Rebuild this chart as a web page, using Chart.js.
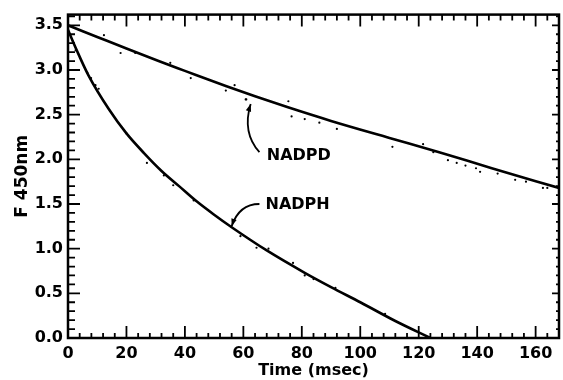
<!DOCTYPE html>
<html>
<head>
<meta charset="utf-8">
<script src="https://cdn.jsdelivr.net/npm/chart.js@4.4.0/dist/chart.umd.min.js"></script>
<style>
  html, body { margin: 0; padding: 0; background: #fff; }
  #wrap { width: 563px; height: 380px; }
</style>
</head>
<body>
<div id="wrap"><canvas id="line-chart"></canvas></div>
<script>
// fitted curves (time in msec, F 450nm)
var nadpdTime = [0, 10, 20, 31, 40, 54, 64, 75, 90, 110, 127, 145, 168]
var nadpdValue = [3.50, 3.37, 3.24, 3.10, 2.99, 2.82, 2.705, 2.585, 2.43, 2.24, 2.08, 1.90, 1.68]

var nadphTime = [0, 3, 7, 14, 20, 26, 32, 38, 44, 50, 56, 68, 81, 90, 100, 112, 124]
var nadphValue = [3.45, 3.22, 2.94, 2.56, 2.29, 2.07, 1.87, 1.70, 1.53, 1.38, 1.24, 0.98, 0.73, 0.57, 0.40, 0.19, 0]

// scattered raw points that stand off the line
var nadpdDotsTime = [12.3, 18, 23, 35, 42, 54, 57, 61, 60.8, 75.4, 76.5, 81, 86, 92, 111, 121.5, 125, 130, 133, 136, 139.6, 141, 147, 153, 156.7, 162.5, 164]
var nadpdDotsValue = [3.39, 3.19, 3.19, 3.08, 2.91, 2.77, 2.83, 2.67, 2.67, 2.65, 2.48, 2.45, 2.41, 2.34, 2.14, 2.17, 2.08, 1.99, 1.96, 1.93, 1.90, 1.86, 1.84, 1.77, 1.75, 1.68, 1.68]

var nadphDotsTime = [2.6, 6.6, 7.9, 9.4, 10.5, 20, 27, 32.8, 36, 43, 59, 64.5, 68.6, 77, 81, 84, 91.5, 101, 108.5]
var nadphDotsValue = [3.22, 2.97, 2.91, 2.83, 2.79, 2.29, 1.96, 1.82, 1.71, 1.54, 1.14, 1.01, 1.00, 0.84, 0.70, 0.66, 0.56, 0.38, 0.27]

// axis tick labels
var xTickLabels = [0, 20, 40, 60, 80, 100, 120, 140, 160]
var yTickLabels = ['0.0', '0.5', '1.0', '1.5', '2.0', '2.5', '3.0', '3.5']

function toPoints(xs, ys) {
    return xs.map(function (x, i) { return { x: x, y: ys[i] } })
}

// line options shared by both fitted curves
var lineOpts = {
    borderColor: '#000',
    borderWidth: 2.6,
    cubicInterpolationMode: 'monotone',
    pointRadius: 0,
    fill: false
}
var dotOpts = {
    showLine: false,
    pointRadius: 1.1,
    pointBackgroundColor: '#000',
    pointBorderWidth: 0
}

// frame, inward ticks, labels and arrows
var framePlugin = {
    id: 'frame',
    afterDatasetsDraw: function (chart) {
        var ctx = chart.ctx
        var a = chart.chartArea
        var xs = chart.scales.x
        var ys = chart.scales.y
        ctx.save()
        ctx.strokeStyle = '#000'
        ctx.lineWidth = 2.5
        ctx.strokeRect(a.left, a.top, a.right - a.left, a.bottom - a.top)

        ctx.lineWidth = 1.8
        ctx.beginPath()
        for (var t = 0; t <= 168; t += 4) {
            var px = xs.getPixelForValue(t)
            var major = t % 20 === 0
            ctx.moveTo(px, a.bottom)
            ctx.lineTo(px, a.bottom - (major ? 12 : 5))
            ctx.moveTo(px, a.top)
            ctx.lineTo(px, a.top + (major ? 12 : 6))
        }
        for (var k = 0; k <= 36; k++) {
            var py = ys.getPixelForValue(k / 10)
            var maj = k % 5 === 0
            ctx.moveTo(a.left, py)
            ctx.lineTo(a.left + (maj ? 12 : 7), py)
            ctx.moveTo(a.right, py)
            ctx.lineTo(a.right - (maj ? 7 : 3), py)
        }
        ctx.stroke()

        // labels
        ctx.fillStyle = '#000'
        ctx.font = 'bold 16px "DejaVu Sans"'
        ctx.textBaseline = 'middle'
        ctx.fillText('NADPD', xs.getPixelForValue(68), ys.getPixelForValue(2.04))
        ctx.fillText('NADPH', xs.getPixelForValue(67.6), ys.getPixelForValue(1.49))

        // arrows
        drawArrow(ctx, xs.getPixelForValue(65.5), ys.getPixelForValue(2.08),
            xs.getPixelForValue(59.5), ys.getPixelForValue(2.30),
            xs.getPixelForValue(62.5), ys.getPixelForValue(2.62))
        drawArrow(ctx, xs.getPixelForValue(65.5), ys.getPixelForValue(1.50),
            xs.getPixelForValue(58.5), ys.getPixelForValue(1.50),
            xs.getPixelForValue(56), ys.getPixelForValue(1.25))
        ctx.restore()
    }
}

function drawArrow(ctx, x0, y0, cx, cy, x1, y1) {
    ctx.lineWidth = 1.8
    ctx.beginPath()
    ctx.moveTo(x0, y0)
    ctx.quadraticCurveTo(cx, cy, x1, y1)
    ctx.stroke()
    var ang = Math.atan2(y1 - cy, x1 - cx)
    ctx.beginPath()
    ctx.moveTo(x1, y1)
    ctx.lineTo(x1 - 8 * Math.cos(ang - 0.35), y1 - 8 * Math.sin(ang - 0.35))
    ctx.lineTo(x1 - 8 * Math.cos(ang + 0.35), y1 - 8 * Math.sin(ang + 0.35))
    ctx.closePath()
    ctx.fill()
}

var tickFont = { family: '"DejaVu Sans"', size: 16, weight: 'bold' }

new Chart(document.getElementById('line-chart'), {
    type: 'scatter',
    data: {
        datasets: [
            { label: 'NADPD', data: toPoints(nadpdTime, nadpdValue), showLine: true, ...lineOpts },
            { label: 'NADPH', data: toPoints(nadphTime, nadphValue), showLine: true, ...lineOpts },
            { label: 'NADPD raw', data: toPoints(nadpdDotsTime, nadpdDotsValue), ...dotOpts },
            { label: 'NADPH raw', data: toPoints(nadphDotsTime, nadphDotsValue), ...dotOpts }
        ]
    },
    options: {
        responsive: true,
        maintainAspectRatio: false,
        animation: false,
        layout: { padding: { top: 14, right: 1, left: 0, bottom: 0 } },
        plugins: {
            legend: { display: false },
            tooltip: { enabled: false }
        },
        scales: {
            x: {
                type: 'linear',
                min: 0,
                max: 168,
                grid: { display: false, drawTicks: false },
                border: { display: false },
                afterBuildTicks: function (scale) {
                    scale.ticks = xTickLabels.map(function (v) { return { value: v } })
                },
                afterFit: function (scale) { scale.height = 42 },
                ticks: { color: '#000', font: tickFont, padding: 6, maxRotation: 0 },
                title: {
                    display: true,
                    text: 'Time (msec)',
                    color: '#000',
                    font: { family: '"DejaVu Sans"', size: 16, weight: 'bold' },
                    padding: { top: 0, bottom: 0 }
                }
            },
            y: {
                min: 0,
                max: 3.62,
                grid: { display: false, drawTicks: false },
                border: { display: false },
                afterBuildTicks: function (scale) {
                    scale.ticks = yTickLabels.map(function (v) { return { value: parseFloat(v) } })
                },
                afterFit: function (scale) { scale.width = 68 },
                ticks: {
                    color: '#000',
                    font: tickFont,
                    padding: 5,
                    callback: function (value) { return value.toFixed(1) }
                },
                title: {
                    display: true,
                    text: 'F 450nm',
                    color: '#000',
                    font: { family: '"DejaVu Sans"', size: 17, weight: 'bold' },
                    padding: { top: 12, bottom: 0 }
                }
            }
        }
    },
    plugins: [framePlugin]
})
</script>
</body>
</html>
